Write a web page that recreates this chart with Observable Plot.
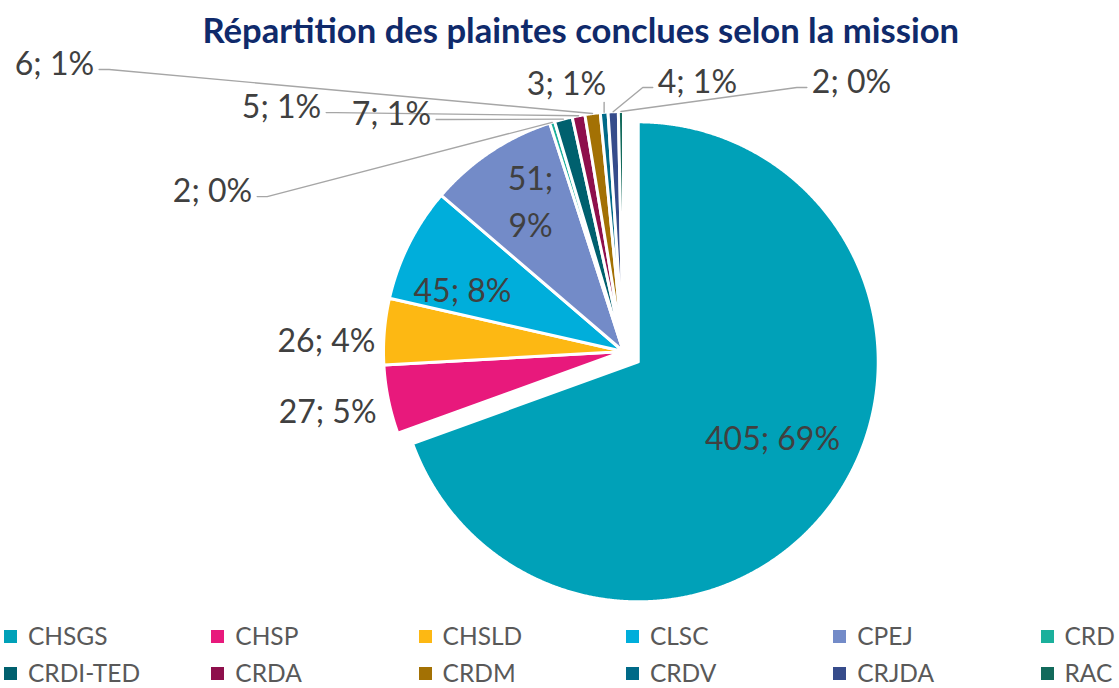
<!DOCTYPE html>
<html><head><meta charset="utf-8">
<script src="https://cdn.jsdelivr.net/npm/d3@7"></script>
<script src="https://cdn.jsdelivr.net/npm/@observablehq/plot@0.6"></script>
<style>
body{margin:0;background:#fff;font-family:Lato,"Open Sans",sans-serif;}
#wrap{position:relative;width:1119px;height:688px;overflow:hidden;background:#fff;}
#title{position:absolute;top:10px;left:0;white-space:nowrap;font-weight:bold;color:#0F2A6B;line-height:40px;}
#chart{position:absolute;top:50px;left:0;}
#chart svg{overflow:visible;}
.lg{position:absolute;display:flex;align-items:center;font-size:24.5px;line-height:28px;height:28px;color:#595959;white-space:nowrap;}
.lg span.sq{display:inline-block;width:13px;height:13px;margin-right:11px;}
</style></head><body>
<div id="wrap">
  <div id="title">Répartition des plaintes conclues selon la mission</div>
  <div id="chart"></div>
  <div id="legend"></div>
</div>
<script>
// ---- data ----
const categories = ["CHSGS","CHSP","CHSLD","CLSC","CPEJ","CRD","CRDI-TED","CRDA","CRDM","CRDV","CRJDA","RAC"];
const counts = [405, 27, 26, 45, 51, 2, 7, 5, 6, 3, 4, 2];
const colors = ["#00A1B8","#E8197C","#FDB813","#00AEDB","#738BC8","#1BB09C","#00606E","#8E0F4C","#A37104","#006A88","#364C8B","#126A5B"];

// ---- layout (label placement, in pie-radius units relative to pie centre) ----
const labelX = [0.621, -1.233, -1.2375, -0.671, -0.3875, -1.7125, -0.967, -1.425, -2.371, -0.2375, 0.308, 0.95];
const labelY = [-0.350, -0.2375, 0.058, 0.267, 0.6375, 0.683, 1.004, 1.033, 1.2125, 1.129, 1.1375, 1.1375];
const labelLeader = [null, null, null, null, null, "right", "right", "right", "right", "bottom", "left", "left"];
const labelWrap = [false, false, false, false, true, false, false, false, false, false, false, false];
const explode = [0.075, 0, 0, 0, 0, 0, 0, 0, 0, 0, 0, 0];

const W = 1119, H = 570, PX = 240, CX = 623, CY = 301;
const FONT = "Lato";
const LABEL_SIZE = 32;

// title fit
const canvas = document.createElement("canvas");
const ctx = canvas.getContext("2d");
const titleEl = document.getElementById("title");
ctx.font = `bold 30px ${FONT}`;
const tw = ctx.measureText(titleEl.textContent).width;
const tSize = 30 * 757 / tw;
titleEl.style.fontSize = tSize + "px";
titleEl.style.left = (581 - 757 / 2) + "px";

const total = d3.sum(counts);
const pct = counts.map(c => Math.round(c / total * 100));
const arcs = d3.pie().sort(null).value(d => d)(counts);

// slice polygons
const slicePts = [];
arcs.forEach((a, i) => {
  const mid = (a.startAngle + a.endAngle) / 2;
  const ox = explode[i] * Math.sin(mid), oy = explode[i] * Math.cos(mid);
  const name = categories[i];
  slicePts.push({name, x: ox, y: oy});
  const n = Math.max(2, Math.ceil((a.endAngle - a.startAngle) / 0.004));
  for (let k = 0; k <= n; k++) {
    const t = a.startAngle + (a.endAngle - a.startAngle) * k / n;
    slicePts.push({name, x: ox + Math.sin(t), y: oy + Math.cos(t)});
  }
  slicePts.push({name, x: ox, y: oy});
});

// labels
ctx.font = `${LABEL_SIZE}px ${FONT}`;
const labels = arcs.map((a, i) => {
  const txt = labelWrap[i] ? `${counts[i]};\n${pct[i]}%` : `${counts[i]}; ${pct[i]}%`;
  return {name: categories[i], x: labelX[i], y: labelY[i], text: txt};
});

// leader lines
const leaderPts = [];
arcs.forEach((a, i) => {
  const type = labelLeader[i];
  if (!type) return;
  const mid = (a.startAngle + a.endAngle) / 2;
  const ex = Math.sin(mid), ey = Math.cos(mid);
  const hw = ctx.measureText(`${counts[i]}; ${pct[i]}%`).width / 2;
  const name = categories[i];
  if (type === "right" || type === "left") {
    const s = type === "right" ? 1 : -1;
    const sx = labelX[i] + s * (hw + 5) / PX, sy = labelY[i] - 9 / PX;
    leaderPts.push({name, x: sx, y: sy});
    leaderPts.push({name, x: sx + s * 10 / PX, y: sy});
  } else {
    leaderPts.push({name, x: ex, y: labelY[i] - 22 / PX});
  }
  leaderPts.push({name, x: ex, y: ey});
});

const chart = Plot.plot({
  width: W, height: H, margin: 0,
  x: {domain: [-CX / PX, (W - CX) / PX], range: [0, W], axis: null},
  y: {domain: [-(H - CY) / PX, CY / PX], range: [H, 0], axis: null},
  color: {domain: categories, range: colors},
  style: {background: "transparent", overflow: "visible"},
  marks: [
    Plot.line(slicePts, {x: "x", y: "y", z: "name", fill: "name", stroke: "white", strokeWidth: 3, strokeLinejoin: "round"}),
    Plot.line(leaderPts, {x: "x", y: "y", z: "name", stroke: "#A6A6A6", strokeWidth: 1.4}),
    Plot.text(labels, {x: "x", y: "y", text: "text", fontSize: LABEL_SIZE, fontFamily: FONT, fill: "#404040", lineHeight: 1.45})
  ]
});
document.getElementById("chart").appendChild(chart);

// legend
const lg = document.getElementById("legend");
categories.forEach((c, i) => {
  const row = Math.floor(i / 6), col = i % 6;
  const d = document.createElement("div");
  d.className = "lg";
  d.style.left = (4 + col * 207.3) + "px";
  d.style.top = (622 + row * 37) + "px";
  d.innerHTML = `<span class="sq" style="background:${colors[i]}"></span>${c}`;
  lg.appendChild(d);
});
</script>
</body></html>
